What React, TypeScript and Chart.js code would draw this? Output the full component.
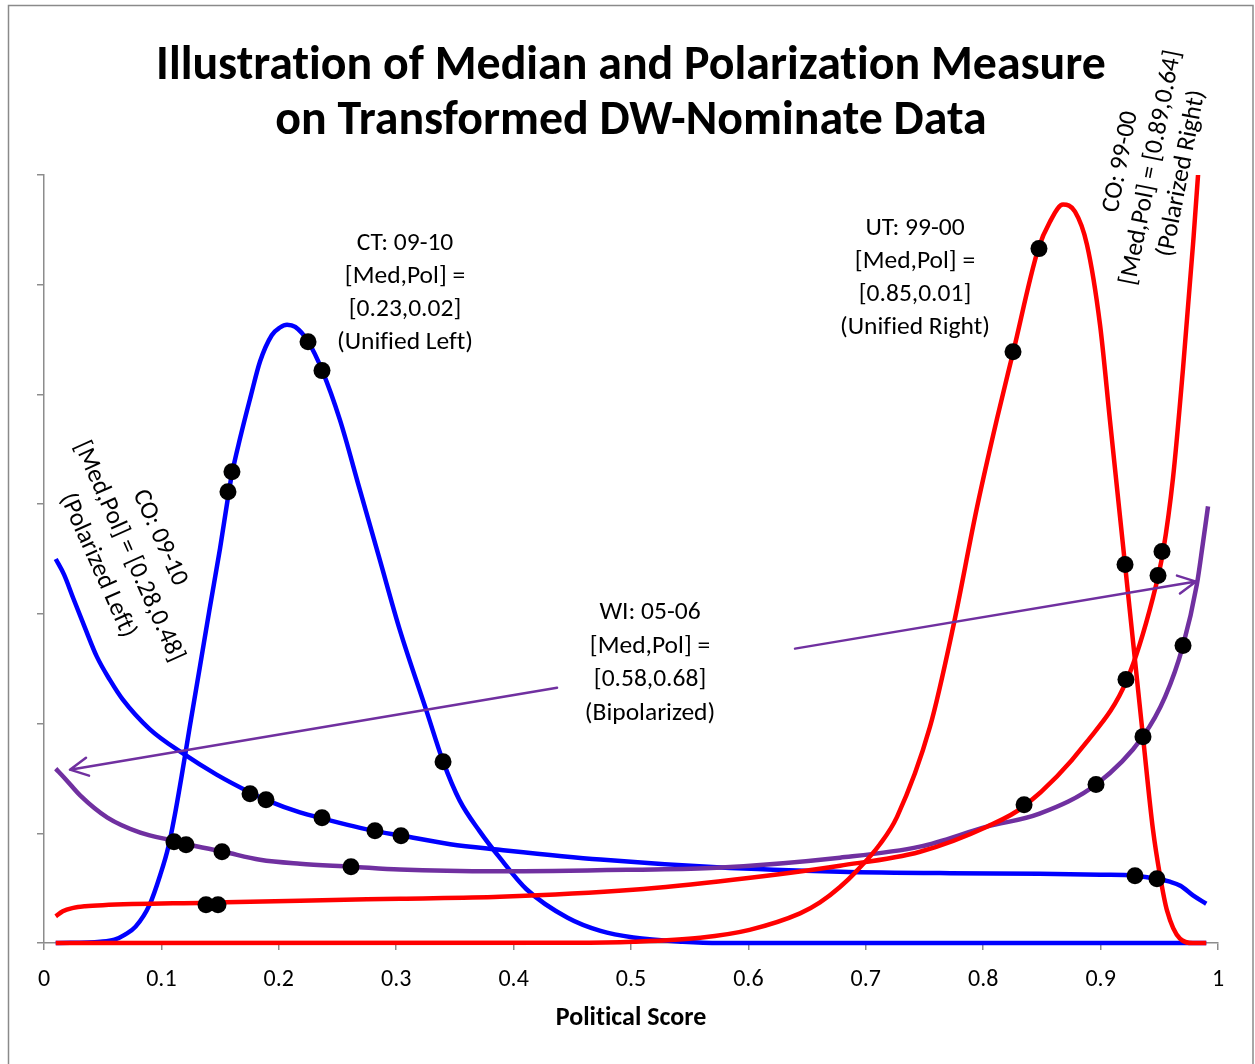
import React, { useEffect, useRef } from "react";
import { Chart, registerables } from "chart.js";

Chart.register(...registerables);

const FONT = 'Carlito, Lato, "Open Sans", sans-serif';

// ---- axis ----
const xTickLabels = ["0", "0.1", "0.2", "0.3", "0.4", "0.5", "0.6", "0.7", "0.8", "0.9", "1"];

// ---- CT 09-10 (Unified Left), blue ----
const ctX = [0.01, 0.048, 0.06, 0.069, 0.078, 0.09, 0.099, 0.106, 0.112, 0.118, 0.124, 0.133, 0.141, 0.15, 0.157, 0.16, 0.167, 0.176, 0.184, 0.194, 0.201, 0.207, 0.214, 0.225, 0.237, 0.252, 0.269, 0.286, 0.303, 0.326, 0.34, 0.354, 0.371, 0.388, 0.411, 0.446, 0.474, 0.502, 0.544, 0.576, 0.99];
const ctY = [0, 0.012, 0.03, 0.076, 0.149, 0.35, 0.62, 0.88, 1.2, 1.57, 1.96, 2.53, 3.04, 3.6, 4.08, 4.27, 4.6, 4.98, 5.3, 5.54, 5.61, 5.636, 5.615, 5.481, 5.217, 4.77, 4.132, 3.494, 2.856, 2.109, 1.653, 1.3, 1.02, 0.78, 0.49, 0.23, 0.11, 0.05, 0.012, 0, 0];

// ---- CO 09-10 (Polarized Left), blue ----
const coLX = [0.01, 0.017, 0.025, 0.035, 0.045, 0.056, 0.067, 0.09, 0.118, 0.147, 0.176, 0.19, 0.218, 0.237, 0.282, 0.304, 0.346, 0.388, 0.474, 0.573, 0.678, 0.772, 0.848, 0.9, 0.929, 0.948, 0.959, 0.968, 0.979, 0.99];
const coLY = [3.5, 3.36, 3.14, 2.87, 2.61, 2.4, 2.22, 1.95, 1.73, 1.535, 1.37, 1.3, 1.19, 1.135, 1.02, 0.98, 0.9, 0.85, 0.76, 0.69, 0.65, 0.636, 0.632, 0.623, 0.614, 0.586, 0.559, 0.522, 0.431, 0.358];

// ---- WI 05-06 (Bipolarized), purple ----
const wiX = [0.01, 0.018, 0.031, 0.054, 0.082, 0.112, 0.122, 0.153, 0.184, 0.218, 0.262, 0.303, 0.388, 0.502, 0.573, 0.678, 0.746, 0.803, 0.848, 0.897, 0.936, 0.955, 0.97, 0.982, 0.987, 0.9915];
const wiY = [1.589, 1.498, 1.343, 1.143, 1.006, 0.928, 0.9, 0.832, 0.759, 0.723, 0.696, 0.669, 0.653, 0.668, 0.686, 0.778, 0.878, 1.06, 1.179, 1.452, 1.881, 2.245, 2.703, 3.268, 3.633, 3.98];

// ---- UT 99-00 (Unified Right), red ----
const utX = [0.01, 0.45, 0.502, 0.559, 0.601, 0.644, 0.661, 0.678, 0.6925, 0.712, 0.7266, 0.7547, 0.7743, 0.7947, 0.8118, 0.8254, 0.8467, 0.8569, 0.868, 0.8782, 0.8884, 0.8995, 0.908, 0.9208, 0.9361, 0.9446, 0.9506, 0.9566, 0.9676, 0.9787, 0.99];
const utY = [0, 0.003, 0.012, 0.048, 0.12, 0.27, 0.37, 0.51, 0.66, 0.9, 1.15, 1.972, 2.875, 3.969, 4.78, 5.38, 6.32, 6.575, 6.73, 6.666, 6.365, 5.636, 4.761, 3.449, 1.881, 1.034, 0.615, 0.295, 0.039, 0, 0];

// ---- CO 99-00 (Polarized Right), red ----
const coRX = [0.01, 0.016, 0.025, 0.035, 0.05, 0.1388, 0.2181, 0.3032, 0.3884, 0.5017, 0.5869, 0.678, 0.7462, 0.8032, 0.8356, 0.8884, 0.9225, 0.9446, 0.9532, 0.9617, 0.9702, 0.9787, 0.983, 0.99];
const coRY = [0.243, 0.29, 0.32, 0.335, 0.345, 0.367, 0.386, 0.404, 0.422, 0.486, 0.577, 0.705, 0.832, 1.06, 1.252, 1.835, 2.4, 3.148, 3.567, 4.241, 5.235, 6.366, 7.0, 8.3];

// ---- observed points (black dots) ----
const dotX = [0.1107, 0.121, 0.1516, 0.1567, 0.1601, 0.2249, 0.2368, 0.3399, 0.138, 0.1482, 0.1755, 0.1891, 0.2368, 0.2819, 0.3041, 0.2615, 0.8254, 0.8475, 0.8348, 0.8961, 0.9361, 0.9216, 0.9702, 0.9208, 0.9489, 0.9523, 0.9293, 0.948];
const dotY = [0.923, 0.896, 0.832, 4.114, 4.296, 5.481, 5.217, 1.653, 0.349, 0.349, 1.361, 1.306, 1.142, 1.024, 0.978, 0.696, 5.39, 6.329, 1.261, 1.444, 1.881, 2.401, 2.711, 3.449, 3.349, 3.568, 0.614, 0.586];

// ---- annotations ----
const titleLines = ["Illustration of Median and Polarization Measure", "on Transformed DW-Nominate Data"];
const xAxisTitle = "Political Score";
const ctLabel = ["CT: 09-10", "[Med,Pol] =", "[0.23,0.02]", "(Unified Left)"];
const utLabel = ["UT: 99-00", "[Med,Pol] =", "[0.85,0.01]", "(Unified Right)"];
const wiLabel = ["WI: 05-06", "[Med,Pol] =", "[0.58,0.68]", "(Bipolarized)"];
const coLLabel = ["CO: 09-10", "[Med,Pol] = [0.28,0.48]", "(Polarized Left)"];
const coRLabel = ["CO: 99-00", "[Med,Pol] = [0.89,0.64]", "(Polarized Right)"];
// anchors in data units: [x, y]
const ctAnchor = [0.3075, 5.919];
const utAnchor = [0.7419, 6.056];
const wiAnchor = [0.5162, 2.551];
const coLAnchor = [0.072, 3.567];
const coRAnchor = [0.9433, 7.067];
// arrows in data units: [xStart, yStart, xTip, yTip]
const arrowLeft = [0.437, 2.327, 0.0221, 1.58];
const arrowRight = [0.6397, 2.683, 0.9813, 3.294];

const pts = (xs: number[], ys: number[]) => xs.map((x, i) => ({ x, y: ys[i] }));

const BLUE = "#0000FF";
const RED = "#FF0000";
const PURPLE = "#7030A0";
const AXIS = "#8c8c8c";

function drawBlock(ctx: CanvasRenderingContext2D, lines: string[], cx: number, cy: number, angleDeg: number, lineH: number) {
  ctx.save();
  ctx.translate(cx, cy);
  ctx.rotate((angleDeg * Math.PI) / 180);
  ctx.textAlign = "center";
  ctx.textBaseline = "middle";
  const n = lines.length;
  lines.forEach((l, i) => ctx.fillText(l, 0, (i - (n - 1) / 2) * lineH));
  ctx.restore();
}

function drawArrow(ctx: CanvasRenderingContext2D, x1: number, y1: number, x2: number, y2: number) {
  const a = Math.atan2(y2 - y1, x2 - x1);
  const len = 20;
  const half = (27 * Math.PI) / 180;
  ctx.beginPath();
  ctx.moveTo(x1, y1);
  ctx.lineTo(x2, y2);
  ctx.moveTo(x2 - len * Math.cos(a - half), y2 - len * Math.sin(a - half));
  ctx.lineTo(x2, y2);
  ctx.lineTo(x2 - len * Math.cos(a + half), y2 - len * Math.sin(a + half));
  ctx.stroke();
}

const overlay = {
  id: "overlay",
  beforeDraw(chart: any) {
    const ctx = chart.ctx as CanvasRenderingContext2D;
    ctx.save();
    ctx.fillStyle = "#fff";
    ctx.fillRect(0, 0, chart.width, chart.height);
    ctx.strokeStyle = "#8a8a8a";
    ctx.lineWidth = 1.5;
    ctx.strokeRect(8.5, 5.5, 1244.5, 1080);
    ctx.restore();
  },
  afterDatasetsDraw(chart: any) {
    const ctx = chart.ctx as CanvasRenderingContext2D;
    const xs = chart.scales.x;
    const ys = chart.scales.y;
    const px = (v: number) => xs.getPixelForValue(v);
    const py = (v: number) => ys.getPixelForValue(v);
    const area = chart.chartArea;
    const cx = (area.left + area.right) / 2;

    ctx.save();
    // arrows
    ctx.strokeStyle = PURPLE;
    ctx.lineWidth = 2.5;
    ctx.lineCap = "round";
    ctx.lineJoin = "round";
    for (const a of [arrowLeft, arrowRight]) {
      drawArrow(ctx, px(a[0]), py(a[1]), px(a[2]), py(a[3]));
    }

    // title (fit first line to its width)
    ctx.fillStyle = "#000";
    try {
      (ctx as any).textRendering = "optimizeSpeed";
    } catch (e) {}
    ctx.font = `bold 100px ${FONT}`;
    const w0 = ctx.measureText(titleLines[0]).width;
    const tSize = (100 * 950) / w0;
    ctx.font = `bold ${tSize}px ${FONT}`;
    ctx.textAlign = "center";
    ctx.textBaseline = "alphabetic";
    ctx.fillText(titleLines[0], cx, 79);
    ctx.fillText(titleLines[1], cx, 134);

    // axis title
    ctx.font = `bold 26px ${FONT}`;
    ctx.textBaseline = "middle";
    ctx.fillText(xAxisTitle, cx, 1018);

    // annotations
    ctx.font = `25.5px ${FONT}`;
    drawBlock(ctx, ctLabel, px(ctAnchor[0]), py(ctAnchor[1]), 0, 33);
    drawBlock(ctx, utLabel, px(utAnchor[0]), py(utAnchor[1]), 0, 33);
    drawBlock(ctx, wiLabel, px(wiAnchor[0]), py(wiAnchor[1]), 0, 33.5);
    drawBlock(ctx, coLLabel, px(coLAnchor[0]), py(coLAnchor[1]), 66, 34);
    drawBlock(ctx, coRLabel, px(coRAnchor[0]), py(coRAnchor[1]), -79, 31);
    ctx.restore();
  },
};

export default function App() {
  const ref = useRef<HTMLCanvasElement>(null);
  useEffect(() => {
    const canvas = ref.current;
    if (!canvas) return;
    const line = (xs: number[], ys: number[], color: string, clip: any) => ({
      type: "line" as const,
      data: pts(xs, ys),
      borderColor: color,
      backgroundColor: color,
      borderWidth: 4.5,
      pointRadius: 0,
      fill: false,
      cubicInterpolationMode: "monotone" as const,
      clip,
    });
    const noClip = false;
    const chart = new Chart(canvas, {
      type: "line",
      data: {
        datasets: [
          {
            type: "scatter" as const,
            data: pts(dotX, dotY),
            backgroundColor: "#000",
            borderColor: "#000",
            borderWidth: 0,
            pointRadius: 8.5,
            clip: noClip,
          } as any,
          line(utX, utY, RED, noClip),
          line(coRX, coRY, RED, { left: false, right: false, bottom: false, top: 0 }),
          line(wiX, wiY, PURPLE, noClip),
          line(ctX, ctY, BLUE, noClip),
          line(coLX, coLY, BLUE, noClip),
        ],
      },
      options: {
        responsive: false,
        animation: false,
        devicePixelRatio: 1,
        layout: { padding: { left: 0, right: 37, top: 175, bottom: 0 } },
        plugins: { legend: { display: false }, tooltip: { enabled: false }, title: { display: false } },
        scales: {
          x: {
            type: "linear",
            min: 0,
            max: 1,
            ticks: {
              stepSize: 0.1,
              autoSkip: false,
              maxRotation: 0,
              color: "#000",
              padding: 16,
              font: { family: FONT, size: 24 },
              callback: (_v: any, i: number) => xTickLabels[i] ?? "",
            },
            grid: { display: true, drawOnChartArea: false, drawTicks: true, tickLength: 7, color: AXIS, lineWidth: 1.5 },
            border: { display: true, color: AXIS, width: 1.5 },
            afterFit: (s: any) => {
              s.height = 121;
            },
          },
          y: {
            type: "linear",
            min: 0,
            max: 7,
            ticks: { stepSize: 1, display: false },
            grid: { display: true, drawOnChartArea: false, drawTicks: true, tickLength: 7, color: AXIS, lineWidth: 1.5 },
            border: { display: true, color: AXIS, width: 1.5 },
            afterFit: (s: any) => {
              s.width = 44;
            },
          },
        },
      } as any,
      plugins: [overlay],
    });
    return () => chart.destroy();
  }, []);
  return (
    <div style={{ position: "absolute", left: 0, top: 0, width: 1255, height: 1064, overflow: "hidden", background: "#fff" }}>
      <canvas ref={ref} width={1255} height={1064} style={{ display: "block", width: 1255, height: 1064 }} />
    </div>
  );
}
